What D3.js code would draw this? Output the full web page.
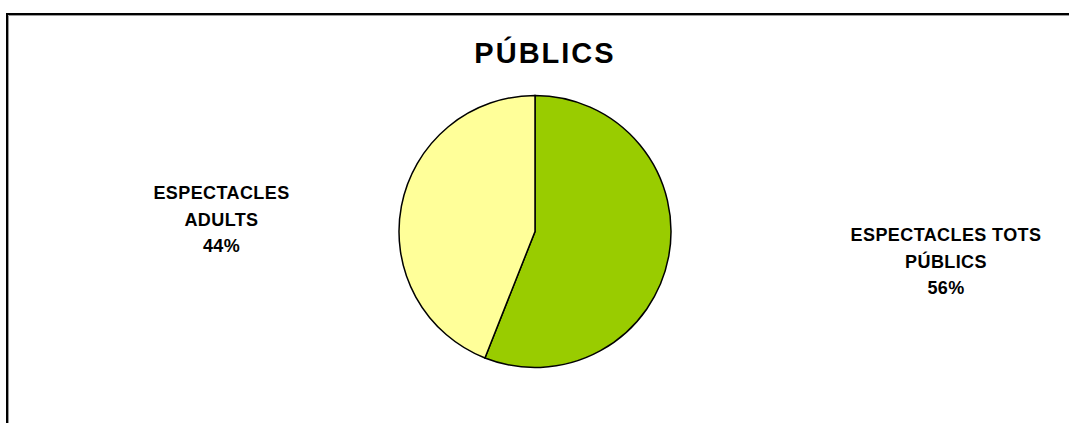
<!DOCTYPE html>
<html>
<head>
<meta charset="utf-8">
<script src="https://cdn.jsdelivr.net/npm/d3@7"></script>
<style>
  body { margin: 0; background: #fff; }
  svg { display: block; font-family: Arial, "Liberation Sans", sans-serif; }
</style>
</head>
<body>
<svg id="chart"></svg>
<script>
var categories = ["ESPECTACLES TOTS PÚBLICS", "ESPECTACLES ADULTS"];
var values = [56, 44];
var labelLines = [["ESPECTACLES TOTS", "PÚBLICS", "56%"], ["ESPECTACLES", "ADULTS", "44%"]];
var colors = ["#99CC00", "#FFFF99"];

var width = 1069;
var height = 423;

var svg = d3.select("#chart")
    .attr("width", width)
    .attr("height", height);

svg.append("rect")
    .attr("width", width)
    .attr("height", height)
    .attr("fill", "#fff");

// chart frame (runs off the right and bottom edge), with a grey shadow line
svg.append("path")
    .attr("d", "M8.5," + (height + 5) + "V15.5H" + (width + 5))
    .attr("fill", "none")
    .attr("stroke", "#999")
    .attr("stroke-width", 1);
svg.append("path")
    .attr("d", "M7," + (height + 5) + "V14H" + (width + 5))
    .attr("fill", "none")
    .attr("stroke", "#000")
    .attr("stroke-width", 2);

svg.append("text")
    .attr("x", 545)
    .attr("y", 63)
    .attr("text-anchor", "middle")
    .attr("font-size", 29)
    .attr("font-weight", "bold")
    .attr("letter-spacing", 2)
    .text("PÚBLICS");

var cx = 535, cy = 231.5, radius = 136;

var pie = d3.pie().sort(null).value(function (d) { return d; });
var arc = d3.arc().innerRadius(0).outerRadius(radius);

var g = svg.append("g").attr("transform", "translate(" + cx + "," + cy + ")");

g.selectAll("path")
    .data(pie(values))
    .enter()
    .append("path")
    .attr("d", arc)
    .attr("fill", function (d, i) { return colors[i]; })
    .attr("stroke", "#000")
    .attr("stroke-width", 1.5);

var labelPos = [[946, 241], [221.5, 199]];

svg.selectAll("text.label")
    .data(categories)
    .enter()
    .append("text")
    .attr("class", "label")
    .attr("text-anchor", "middle")
    .attr("font-size", 18)
    .attr("font-weight", "bold")
    .attr("letter-spacing", 0.4)
    .each(function (d, i) {
        var t = d3.select(this);
        labelLines[i].forEach(function (line, j) {
            t.append("tspan")
                .attr("x", labelPos[i][0])
                .attr("y", labelPos[i][1] + j * 26.5)
                .text(line);
        });
    });
</script>
</body>
</html>
